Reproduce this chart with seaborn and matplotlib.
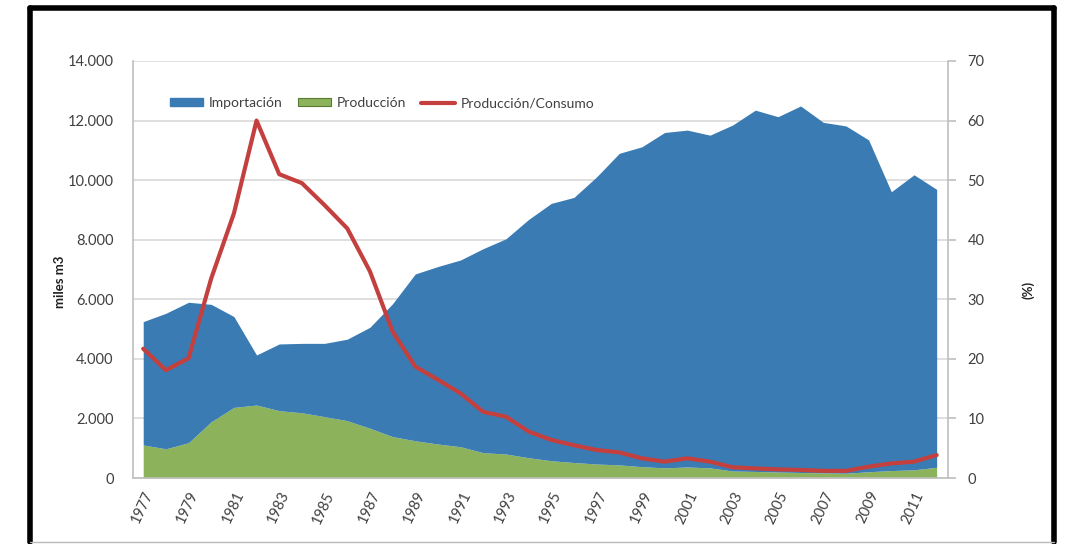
import matplotlib
matplotlib.use("Agg")
import matplotlib.pyplot as plt
import seaborn as sns
import numpy as np
import pandas as pd
from matplotlib.patches import Patch
from matplotlib.lines import Line2D

years = list(range(1977, 2013))
# Total consumption (top of stacked area), miles m3
total = [5250, 5530, 5900, 5830, 5420, 4130, 4500, 4520, 4520, 4660, 5060, 5850,
         6850, 7100, 7320, 7700, 8030, 8680, 9220, 9420, 10110, 10900, 11120, 11600,
         11680, 11510, 11850, 12350, 12130, 12490, 11940, 11820, 11350, 9610, 10180, 9690]
produccion = [1110, 980, 1185, 1890, 2370, 2450, 2260, 2190, 2060, 1925, 1670, 1390,
              1250, 1140, 1050, 850, 805, 680, 580, 520, 470, 440, 380, 340,
              370, 340, 235, 220, 200, 185, 170, 160, 210, 250, 275, 360]
importacion = [t - p for t, p in zip(total, produccion)]
ratio = [21.7, 18.1, 20.1, 33.5, 44.4, 60.0, 51.0, 49.5, 45.8, 41.9, 34.7, 24.6,
         18.7, 16.5, 14.2, 11.1, 10.3, 7.8, 6.4, 5.5, 4.7, 4.3, 3.3, 2.75,
         3.3, 2.75, 1.8, 1.6, 1.45, 1.35, 1.2, 1.2, 1.9, 2.45, 2.75, 3.85]
left_ticks = [0, 2000, 4000, 6000, 8000, 10000, 12000, 14000]
left_tick_labels = ["0", "2.000", "4.000", "6.000", "8.000", "10.000", "12.000", "14.000"]
right_ticks = [0, 10, 20, 30, 40, 50, 60, 70]

df = pd.DataFrame({"year": years, "idx": np.arange(len(years)),
                   "prod": produccion, "imp": importacion, "ratio": ratio})

sns.set_style("white")
plt.rcParams['font.family'] = ['Lato', 'DejaVu Sans']

BLUE = '#3A7BB3'
GREEN = '#8CB35B'
RED = '#C4403F'
GRAY_TXT = '#404040'
AXIS_GRAY = '#BFBFBF'

fig = plt.figure(figsize=(10.67, 5.44), dpi=100)
ax = fig.add_axes([133/1067, 1-478/544, (948-133)/1067, (478-61)/544])

x = df["idx"].values
top = df["prod"].values + df["imp"].values
ax.fill_between(x, 0, df["prod"].values, color=GREEN, lw=0, zorder=2)
ax.fill_between(x, df["prod"].values, top, color=BLUE, lw=0, zorder=2)

ax.set_xlim(-0.45, 35.5)
ax.set_ylim(0, 14000)
ax.set_yticks(left_ticks)
ax.set_yticklabels(left_tick_labels)
ax.yaxis.grid(True, color='#D9D9D9', lw=1.2)
ax.set_axisbelow(True)
for s in ['top', 'right']:
    ax.spines[s].set_visible(False)
for s in ['left', 'bottom']:
    ax.spines[s].set_color(AXIS_GRAY)
    ax.spines[s].set_linewidth(1.2)
ax.tick_params(axis='y', length=0, labelsize=10.5, labelcolor=GRAY_TXT, pad=14)
xt = [i for i in range(len(years)) if years[i] % 2 == 1]
ax.set_xticks(xt)
ax.set_xticklabels([str(years[i]) for i in xt], rotation=65, ha='right', va='top',
                   rotation_mode='anchor', fontsize=10.5, color=GRAY_TXT)
ax.tick_params(axis='x', length=0, pad=8)

ax2 = ax.twinx()
sns.lineplot(data=df, x="idx", y="ratio", ax=ax2, color=RED, lw=3.0, zorder=5, legend=False)
ax2.set_ylim(0, 70)
ax2.set_xlim(-0.45, 35.5)
ax2.set_yticks(right_ticks)
ax2.set_ylabel("")
ax2.set_xlabel("")
ax.set_xlabel("")
for s in ['top', 'left', 'bottom']:
    ax2.spines[s].set_visible(False)
ax2.spines['right'].set_color(AXIS_GRAY)
ax2.spines['right'].set_linewidth(1.2)
ax2.tick_params(axis='y', length=6, width=1.2, color=AXIS_GRAY, labelsize=10.5,
                labelcolor=GRAY_TXT, pad=8)

handles = [Patch(facecolor=BLUE, edgecolor=BLUE),
           Patch(facecolor=GREEN, edgecolor='#5A7A30', lw=0.8),
           Line2D([0], [0], color=RED, lw=3.0)]
labels = ["Importación", "Producción", "Producción/Consumo"]
ax2.legend(handles, labels, loc='center left', bbox_to_anchor=(0.03, 0.899), ncol=3,
           frameon=False, fontsize=10, handlelength=2.4, handleheight=0.5,
           handletextpad=0.4, columnspacing=1.1, labelcolor=GRAY_TXT)

fig.text(60/1067, 1-282/544, "miles m3", rotation=90, ha='center', va='center',
         fontsize=9.5, fontweight='bold', color='#202020')
fig.text(1028/1067, 1-290/544, "(%)", rotation=90, ha='center', va='center',
         fontsize=9.5, fontweight='bold', color='#202020')

# picture frame
L, R, T, B = 30/1067, 1054/1067, 1-8/544, 1-542/544
fig.add_artist(Line2D([L, L], [B, T], color='black', lw=4, transform=fig.transFigure))
fig.add_artist(Line2D([L, R], [T, T], color='black', lw=4, transform=fig.transFigure))
fig.add_artist(Line2D([R, R], [B, T], color='black', lw=4, transform=fig.transFigure))
fig.add_artist(Line2D([L, R], [B, B], color='#BBBBBB', lw=1, transform=fig.transFigure))

fig.savefig("out.png", dpi=100)
